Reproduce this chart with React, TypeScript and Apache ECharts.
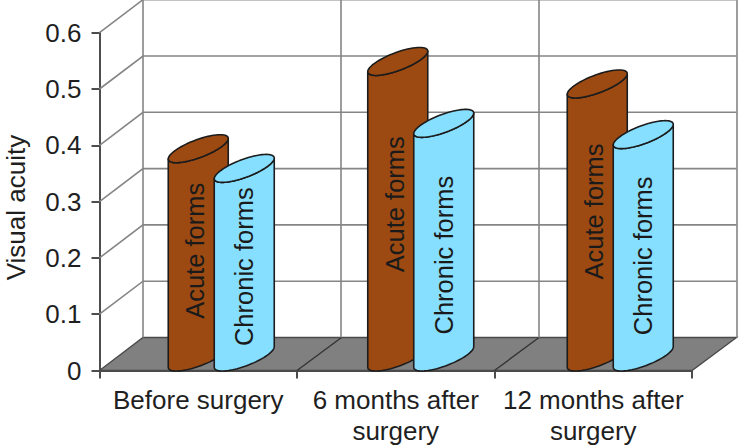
import React, { useEffect, useRef } from "react";
import * as echarts from "echarts";

const categories = ["Before surgery", "6 months after\nsurgery", "12 months after\nsurgery"];
const acuteForms = [0.37, 0.525, 0.485];
const chronicForms = [0.335, 0.415, 0.395];
const yTicks = [0, 0.1, 0.2, 0.3, 0.4, 0.5, 0.6];

const FONT = '"Liberation Sans", Arial, sans-serif';
const DEPTH_X = 43.5;
const DEPTH_Y = 33;
const HALF_WIDTH = 30;
const ELL_DX = 22;
const ELL_DY = 14;
const ELL_R = Math.sqrt(HALF_WIDTH * HALF_WIDTH - ELL_DX * ELL_DX);
const T0 = Math.atan2(ELL_DX, ELL_R);
const BASE_LIFT = 13.5;
const acuteNudge = [-2, -5, -9];
const chronicNudge = [4, 15, 10];

function ellipsePoint(cx: number, cy: number, t: number) {
  return [cx + ELL_R * Math.cos(t) + ELL_DX * Math.sin(t), cy - ELL_DY * Math.sin(t)];
}

function makeCylinder(name: string, fill: string, sideOffset: number, label: string, nudge: number[], labelDx: number) {
  return {
    type: "custom",
    name,
    z: 5,
    encode: { x: 0, y: 1 },
    renderItem: (params: any, api: any) => {
      const i = api.value(0);
      const v = api.value(1);
      const base = api.coord([i, 0]);
      const top = api.coord([i, v]);
      const cx = base[0] + sideOffset + i * 2;
      const by = base[1] - BASE_LIFT;
      const ty = top[1] - BASE_LIFT;
      const steps = 40;
      const body: number[][] = [];
      for (let s = 0; s <= steps; s++) {
        body.push(ellipsePoint(cx, ty, T0 - (Math.PI * s) / steps));
      }
      for (let s = 0; s <= steps; s++) {
        body.push(ellipsePoint(cx, by, T0 - Math.PI + (Math.PI * s) / steps));
      }
      const cap: number[][] = [];
      for (let s = 0; s < 64; s++) cap.push(ellipsePoint(cx, ty, (2 * Math.PI * s) / 64));
      const lineStyle = { fill, stroke: "#1c1c1c", lineWidth: 1.6, lineJoin: "round" };
      return {
        type: "group",
        children: [
          { type: "polygon", shape: { points: body }, style: lineStyle },
          { type: "polygon", shape: { points: cap }, style: lineStyle },
          {
            type: "text",
            x: cx + labelDx,
            y: (ty + by) / 2 + nudge[i],
            rotation: Math.PI / 2,
            style: {
              text: label,
              font: `25.5px ${FONT}`,
              fill: "#1a1a1a",
              align: "center",
              verticalAlign: "middle",
            },
          },
        ],
      };
    },
    data: (name === "Acute forms" ? acuteForms : chronicForms).map((v, i) => [i, v]),
  };
}

export default function App() {
  const ref = useRef<HTMLDivElement>(null);
  useEffect(() => {
    const chart = echarts.init(ref.current!, null, { renderer: "svg" });
    const wall = {
      type: "custom",
      name: "walls",
      z: 1,
      silent: true,
      encode: { x: 0, y: 1 },
      data: yTicks.map((v) => [0, v]),
      renderItem: (params: any, api: any) => {
        const v = api.value(1);
        const sys = params.coordSys;
        const y = api.coord([0, v])[1];
        const x0 = sys.x;
        const x1 = sys.x + sys.width;
        const stroke = { stroke: "#858585", lineWidth: 1.6, fill: "none" };
        const children: any[] = [];
        if (v === 0) {
          children.push({
            type: "polygon",
            shape: {
              points: [
                [x0, y],
                [x0 + DEPTH_X, y - DEPTH_Y],
                [x1 + DEPTH_X + 1, y - DEPTH_Y],
                [x1, y],
              ],
            },
            style: { fill: "#808080", stroke: "#4a4a4a", lineWidth: 1.4 },
          });
          categories.forEach((_, k) => {
            const xb = x0 + (sys.width * (k + 1)) / categories.length;
            if (k < categories.length - 1) {
              children.push({
                type: "line",
                shape: { x1: xb, y1: y, x2: xb + DEPTH_X + 1, y2: y - DEPTH_Y },
                style: { stroke: "#333", lineWidth: 1.4 },
              });
            }
          });
          [0, 1, 2, 3].forEach((k) => {
            const xb = x0 + (sys.width * k) / categories.length + DEPTH_X + k * 0.5;
            children.push({
              type: "line",
              shape: { x1: xb, y1: y - DEPTH_Y, x2: xb, y2: sys.y - DEPTH_Y },
              style: stroke,
            });
          });
        } else {
          children.push({
            type: "polyline",
            shape: {
              points: [
                [x0, y],
                [x0 + DEPTH_X, y - DEPTH_Y],
                [x1 + DEPTH_X + 1, y - DEPTH_Y],
              ],
            },
            style: stroke,
          });
        }
        return { type: "group", children };
      },
    };
    chart.setOption({
      animation: false,
      backgroundColor: "#ffffff",
      grid: { left: 99.5, right: 47, top: 32.7, bottom: 76.5, containLabel: false, outerBoundsMode: "none" },
      xAxis: {
        type: "category",
        data: categories,
        axisLine: { lineStyle: { color: "#4d4d4d", width: 2 } },
        axisTick: { show: true, length: 8, alignWithLabel: false, lineStyle: { color: "#4d4d4d", width: 2 } },
        axisLabel: { fontFamily: FONT, fontSize: 26, color: "#1f1f1f", margin: 14, lineHeight: 31, interval: 0, hideOverlap: false },
        splitLine: { show: false },
      },
      yAxis: {
        type: "value",
        min: 0,
        max: 0.6,
        interval: 0.1,
        name: "Visual acuity",
        nameLocation: "middle",
        nameGap: 71,
        nameRotate: 90,
        nameTextStyle: { fontFamily: FONT, fontSize: 26, color: "#1f1f1f", padding: [0, 0, 0, -12] },
        axisLine: { show: true, lineStyle: { color: "#4d4d4d", width: 2 } },
        axisTick: { show: true, length: 8, lineStyle: { color: "#4d4d4d", width: 2 } },
        axisLabel: {
          fontFamily: FONT,
          fontSize: 26,
          color: "#1f1f1f",
          margin: 18,
          formatter: (v: number) => (v === 0 ? "0" : v.toFixed(1)),
        },
        splitLine: { show: false },
      },
      series: [
        wall,
        makeCylinder("Acute forms", "#9c4a12", 0, "Acute forms", acuteNudge, -3),
        makeCylinder("Chronic forms", "#87dfff", 46, "Chronic forms", chronicNudge, 0),
      ],
    });
    return () => chart.dispose();
  }, []);
  return <div ref={ref} style={{ position: "absolute", left: 0, top: 0, width: 739, height: 447 }} />;
}
